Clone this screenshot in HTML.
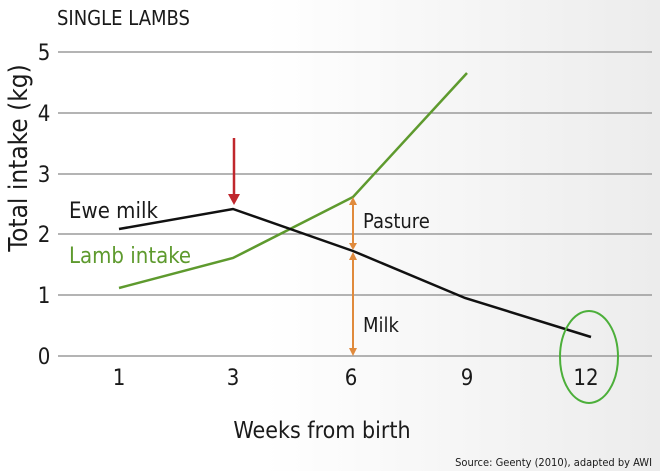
<!DOCTYPE html>
<html><head><style>
body{margin:0;width:660px;height:471px;overflow:hidden;background:linear-gradient(90deg,#fff 0%,#fff 40%,#ececec 100%);}
svg{display:block}
text{font-family:"DejaVu Sans Condensed","Liberation Sans",sans-serif;fill:#1a1a1a}
</style></head><body>
<svg width="660" height="471" viewBox="0 0 660 471">
<text x="57" y="25" font-size="20">SINGLE LAMBS</text>
<g stroke="#888" stroke-width="1.3">
<line x1="58" y1="52" x2="652" y2="52"/><line x1="58" y1="113" x2="652" y2="113"/>
<line x1="58" y1="174" x2="652" y2="174"/><line x1="58" y1="234" x2="652" y2="234"/>
<line x1="58" y1="295" x2="652" y2="295"/><line x1="58" y1="356" x2="652" y2="356"/>
</g>
<g font-size="22" text-anchor="middle">
<text x="44" y="60">5</text><text x="44" y="121">4</text><text x="44" y="182">3</text>
<text x="44" y="242">2</text><text x="44" y="303">1</text><text x="44" y="364">0</text>
<text x="119" y="385">1</text><text x="233" y="385">3</text><text x="351" y="385">6</text>
<text x="467" y="385">9</text><text x="586" y="385">12</text>
</g>
<text transform="translate(27,158) rotate(-90)" font-size="26" text-anchor="middle">Total intake (kg)</text>
<text x="322" y="438" font-size="23" text-anchor="middle">Weeks from birth</text>
<text x="652" y="466" font-size="11" text-anchor="end">Source: Geenty (2010), adapted by AWI</text>
<polyline points="119,288 233,258 353,197 467,73" fill="none" stroke="#5e9a2e" stroke-width="2.5"/>
<polyline points="119,229 233,209 353,251 465,298 591,337" fill="none" stroke="#111" stroke-width="2.5"/>
<text x="69" y="218" font-size="22">Ewe milk</text>
<text x="69" y="263" font-size="22" style="fill:#5e9a2e">Lamb intake</text>
<line x1="234" y1="138" x2="234" y2="196" stroke="#c0272d" stroke-width="2.5"/>
<polygon points="228,194 240,194 234,205" fill="#c0272d"/>
<g stroke="#e08a3c" stroke-width="2" fill="#e08a3c">
<line x1="353" y1="200" x2="353" y2="247"/><line x1="353" y1="255" x2="353" y2="352"/>
<polygon points="349,205 357,205 353,197" stroke="none"/>
<polygon points="349,243 357,243 353,250" stroke="none"/>
<polygon points="349,260 357,260 353,252" stroke="none"/>
<polygon points="349,348 357,348 353,356" stroke="none"/>
</g>
<text x="363" y="228" font-size="20">Pasture</text>
<text x="363" y="332" font-size="20">Milk</text>
<ellipse cx="589" cy="357" rx="29" ry="46" fill="none" stroke="#4caf3a" stroke-width="2"/>
</svg>
</body></html>
